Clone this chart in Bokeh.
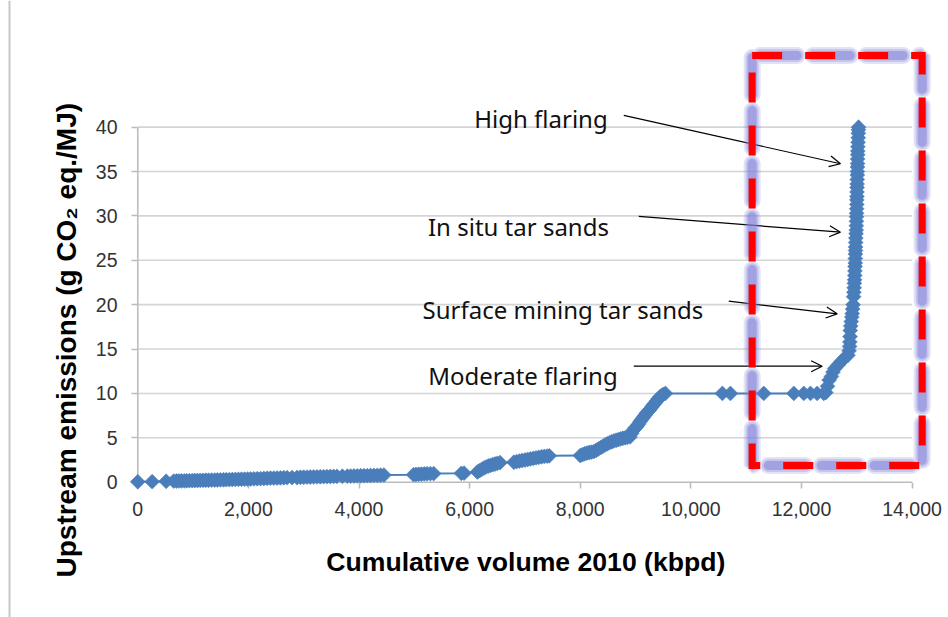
import math

from bokeh.core.properties import value
from bokeh.embed import file_html
from bokeh.layouts import row
from bokeh.models import Arrow, FixedTicker, NumeralTickFormatter, OpenHead, Range1d
from bokeh.plotting import figure
from bokeh.resources import INLINE

# Cumulative production volume (kbpd), fields sorted by upstream intensity
volume = [
    0, 260, 513,
    650, 700, 745, 790, 840, 885, 935, 985, 1030, 1080, 1130, 1180, 1230, 1280,
    1335, 1390, 1440, 1495, 1550, 1600, 1655, 1710, 1765, 1820, 1875, 1930, 1985,
    2040, 2100, 2160, 2220, 2280, 2340, 2400, 2460, 2520, 2580, 2640, 2700, 2790,
    2880, 2940, 3000, 3060, 3120, 3180, 3240, 3300, 3360, 3420, 3480, 3540, 3600,
    3700, 3790, 3850, 3910, 3970, 4030, 4090, 4150, 4210, 4270, 4330, 4390, 4450,
    4985, 5030, 5080, 5130, 5180, 5230, 5290, 5350,
    5850, 5900,
    6140, 6180, 6220, 6260, 6300, 6340, 6380, 6420, 6460, 6500, 6550,
    6800, 6850, 6900, 6950, 7000, 7050, 7100, 7150, 7200, 7250, 7300, 7350, 7400, 7440,
    8000, 8040, 8080, 8120, 8160, 8200, 8245, 8290, 8330, 8370, 8410, 8450, 8490,
    8530, 8570, 8610, 8650, 8690, 8730, 8770, 8810, 8850, 8900, 8930, 8960, 8990,
    9020, 9050, 9080, 9110, 9140, 9170, 9200, 9230, 9260, 9290, 9320, 9350, 9380,
    9410, 9440, 9470, 9500, 9540,
    10570, 10715, 11318, 11862, 12042, 12163, 12283, 12403, 12440,
    12470, 12500, 12540, 12570, 12600, 12660, 12720, 12780, 12840, 12860, 12870,
    12875, 12878, 12882, 12890, 12900, 12910, 12918, 12925, 12933, 12942, 12947,
    12952, 12956, 12960, 12963, 12966, 12969, 12972, 12974, 12975, 12977, 12978,
    12980, 12983, 12987, 12990, 12992, 12994, 12995, 12996, 12998, 13000, 13001,
    13002, 13004, 13005, 13006, 13008, 13010, 13011, 13012, 13014, 13015, 13017,
    13018, 13020, 13023, 13026, 13028, 13030, 13032,
]

# Upstream emissions (g CO2 eq./MJ) for each point above
emissions = [
    0.05, 0.06, 0.10,
    0.12, 0.13, 0.14, 0.15, 0.15, 0.16, 0.17, 0.18, 0.19, 0.19, 0.20, 0.21, 0.22, 0.22,
    0.23, 0.24, 0.25, 0.26, 0.27, 0.28, 0.29, 0.30, 0.31, 0.32, 0.33, 0.34, 0.35,
    0.36, 0.38, 0.39, 0.40, 0.42, 0.44, 0.45, 0.46, 0.47, 0.48, 0.50, 0.51, 0.52,
    0.53, 0.55, 0.56, 0.57, 0.58, 0.59, 0.60, 0.61, 0.62, 0.63, 0.64, 0.65, 0.66,
    0.67, 0.68, 0.69, 0.70, 0.71, 0.72, 0.73, 0.74, 0.75, 0.76, 0.77, 0.78, 0.80,
    0.85, 0.87, 0.89, 0.91, 0.93, 0.95, 0.96, 0.97,
    1.00, 1.02,
    1.15, 1.30, 1.45, 1.60, 1.72, 1.82, 1.90, 1.98, 2.05, 2.12, 2.20,
    2.25, 2.32, 2.38, 2.44, 2.50, 2.56, 2.62, 2.68, 2.74, 2.80, 2.86, 2.90, 2.94, 2.97,
    3.00, 3.10, 3.20, 3.28, 3.34, 3.38, 3.45, 3.60, 3.75, 3.90, 4.05, 4.20, 4.33,
    4.45, 4.55, 4.65, 4.72, 4.80, 4.88, 4.95, 5.00, 5.05, 5.10, 5.50, 5.85, 6.10,
    6.25, 6.50, 6.80, 7.05, 7.30, 7.55, 7.80, 8.00, 8.20, 8.45, 8.70, 8.90, 9.15,
    9.40, 9.60, 9.75, 9.88, 10.0,
    10.0, 10.0, 10.0, 10.0, 10.0, 10.0, 10.0, 10.0, 10.1,
    10.8, 11.5, 11.9, 12.4, 12.8, 13.2, 13.6, 14.0, 14.3, 14.8, 15.3,
    15.8, 16.4, 17.1, 17.6, 18.1, 18.6, 19.0, 19.5, 20.0, 20.9, 21.4,
    21.9, 22.4, 22.8, 23.3, 23.8, 24.3, 24.7, 25.2, 25.7, 26.1, 26.5,
    27.0, 27.5, 28.0, 28.4, 28.9, 29.4, 29.9, 30.3, 30.8, 31.3, 31.8,
    32.2, 32.7, 33.2, 33.6, 34.1, 34.6, 35.0, 35.5, 35.9, 36.4, 36.9,
    37.3, 37.8, 38.3, 38.8, 39.3, 39.7, 40.0,
]

x_ticks = [0, 2000, 4000, 6000, 8000, 10000, 12000, 14000]
y_ticks = [0, 5, 10, 15, 20, 25, 30, 35, 40]

x_title = "Cumulative volume 2010 (kbpd)"
y_title = "Upstream emissions (g CO\u2082 eq./MJ)"

# Callout labels and the arrows that point from them to the curve
callouts = ["High flaring", "In situ tar sands", "Surface mining tar sands", "Moderate flaring"]
callout_x = [7290, 6883, 7688, 6964]
callout_y = [40.95, 28.85, 19.4, 12.02]
arrow_x0 = [8787, 9058, 10685, 8968]
arrow_y0 = [41.32, 29.94, 20.39, 13.07]
arrow_x1 = [12705, 12705, 12645, 12374]
arrow_y1 = [35.88, 28.17, 18.97, 13.07]

# Highlight box around the steep end of the curve
box_left, box_right, box_bottom, box_top = 11108, 14182, 1.88, 48.08

BLUE = "#4A7EBB"
GRID = "#d4d4d4"
AXIS = "#bcbcbc"

# ---- left strip: page rule and the vertical axis title (pixel coordinates) ----
TITLE_W = 90
side = figure(width=TITLE_W, height=617, output_backend="svg", toolbar_location=None,
              x_range=Range1d(0, TITLE_W), y_range=Range1d(0, 617),
              x_axis_location=None, y_axis_location=None, min_border=0)
side.frame_align = False
side.outline_line_color = None
side.xgrid.visible = False
side.ygrid.visible = False
side.segment(x0=[9], y0=[0], x1=[9], y1=[617], line_color="#c8c8c8", line_width=2)
side.text(x=[66], y=[40], text=[y_title], angle=math.pi / 2,
          text_align="left", text_baseline="middle",
          text_font=value("Liberation Sans"), text_font_style="bold",
          text_font_size="28px", text_color="black")

# ---- main chart ----
p = figure(width=948 - TITLE_W, height=617, output_backend="svg", toolbar_location=None,
           x_range=Range1d(-240, 14405), y_range=Range1d(-1.05, 50.44),
           min_border_left=124 - TITLE_W, min_border_right=14, min_border_top=34,
           min_border_bottom=126)
p.frame_align = False
p.outline_line_color = None
p.background_fill_color = "white"
p.border_fill_color = "white"
p.xgrid.visible = False
p.ygrid.visible = False

# horizontal gridlines spanning the tick range only
grid_levels = y_ticks[1:]
p.segment(x0=[x_ticks[0]] * len(grid_levels), x1=[x_ticks[-1]] * len(grid_levels),
          y0=grid_levels, y1=grid_levels, line_color=GRID, line_width=1.6)

# axis lines through the origin
p.segment(x0=[x_ticks[0], x_ticks[0]], y0=[y_ticks[0], y_ticks[0]],
          x1=[x_ticks[-1], x_ticks[0]], y1=[y_ticks[0], y_ticks[-1]],
          line_color=AXIS, line_width=1.6)

for ax in (p.xaxis, p.yaxis):
    ax.axis_line_color = None
    ax.major_tick_line_color = AXIS
    ax.major_tick_line_width = 1.6
    ax.minor_tick_out = 0
    ax.minor_tick_in = 0
    ax.major_label_text_font = "Liberation Sans"
    ax.major_label_text_font_size = "19.5px"
    ax.major_label_text_color = "#333333"
    ax.axis_label_text_font = "Liberation Sans"
    ax.axis_label_text_font_style = "bold"
    ax.axis_label_text_color = "black"

# ticks sit just outside the origin lines, inside the padded frame
p.xaxis.ticker = FixedTicker(ticks=x_ticks)
p.xaxis.formatter = NumeralTickFormatter(format="0,0")
p.xaxis.major_tick_in = 9
p.xaxis.major_tick_out = -3
p.xaxis.major_label_standoff = 10
p.xaxis.axis_label = x_title + "\u00a0"
p.xaxis.axis_label_text_font_size = "26.6px"
p.xaxis.axis_label_standoff = 28

p.yaxis.ticker = FixedTicker(ticks=y_ticks)
p.yaxis.major_tick_in = 13
p.yaxis.major_tick_out = -7
p.yaxis.major_label_standoff = 7

# supply curve: line with diamond markers
p.line(volume, emissions, line_color=BLUE, line_width=2, level="overlay")
p.scatter(volume, emissions, marker="square", size=10.5, angle=math.pi / 4,
          fill_color=BLUE, line_color=BLUE, line_width=0.6, level="overlay")

# dashed highlight box: soft lavender dashes under red dashes
bx = [box_left, box_right, box_right, box_left, box_left]
by = [box_top, box_top, box_bottom, box_bottom, box_top]
for w, a in ((17, 0.22), (13, 0.3), (9, 0.5)):
    p.line(bx, by, line_color="#8080d8", line_alpha=a, line_width=w,
           line_dash="37 16", line_dash_offset=45, line_cap="round", level="overlay")
p.line(bx, by, line_color="#ff0000", line_width=7, line_dash="30 23",
       line_join="miter", level="overlay")

# callout texts and arrows
p.text(x=callout_x, y=callout_y, text=callouts, text_font=value("Noto Sans"),
       text_font_size="24px", text_align="center", text_baseline="alphabetic",
       text_color="#111111")
for x0, y0, x1, y1 in zip(arrow_x0, arrow_y0, arrow_x1, arrow_y1):
    p.add_layout(Arrow(end=OpenHead(size=11, line_width=1.2, line_color="black"),
                       x_start=x0, y_start=y0, x_end=x1, y_end=y1,
                       line_width=1.2, line_color="black"))

page = row(side, p, spacing=0)
open("out.html", "w").write(file_html(page, INLINE))
